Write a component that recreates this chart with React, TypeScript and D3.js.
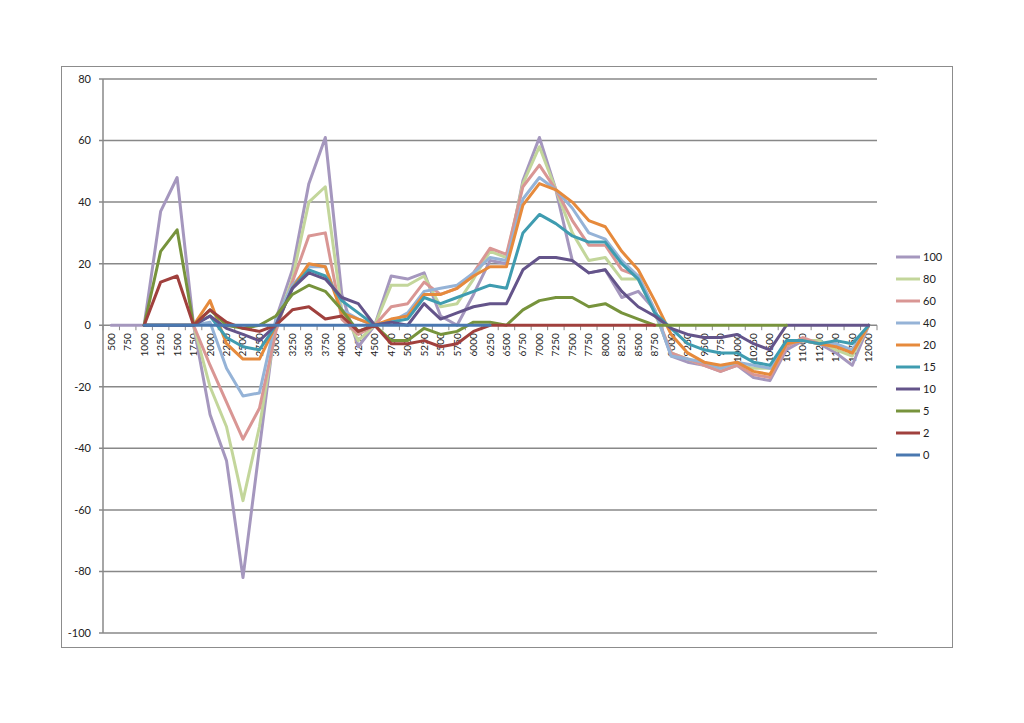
import React from "react";
import * as d3 from "d3";

const categories: number[] = [
  500, 750, 1000, 1250, 1500, 1750, 2000, 2250, 2500, 2750, 3000, 3250, 3500, 3750, 4000, 4250,
  4500, 4750, 5000, 5250, 5500, 5750, 6000, 6250, 6500, 6750, 7000, 7250, 7500, 7750, 8000, 8250,
  8500, 8750, 9000, 9250, 9500, 9750, 10000, 10250, 10500, 10750, 11000, 11250, 11500, 11750, 12000,
];

const yTicks: number[] = [80, 60, 40, 20, 0, -20, -40, -60, -80, -100];

const N = null;
const s100: (number | null)[] = [0, 0, 0, 37, 48, 0, -29, -44, -82, -40, 2, 18, 46, 61, 10, -7, 0, 16, 15, 17, 3, 0, 10, 21, 20, 47, 61, 44, 21, 17, 18, 9, 11, 5, -10, -12, -13, -15, -13, -17, -18, -8, -5, -6, -9, -13, 0];
const s80: (number | null)[] = [N, N, 0, 0, 0, 0, -20, -33, -57, -33, 0, 15, 40, 45, 5, -5, 0, 13, 13, 16, 6, 7, 15, 24, 22, 46, 58, 44, 30, 21, 22, 15, 15, 4, -9, -11, -13, -14, -13, -14, -14, -6, -5, -5, -8, -10, 0];
const s60: (number | null)[] = [N, N, 0, 0, 0, 0, -13, -25, -37, -27, -2, 14, 29, 30, 2, -3, 0, 6, 7, 14, 10, 12, 17, 25, 23, 45, 52, 44, 34, 26, 26, 18, 16, 5, -9, -11, -13, -15, -13, -16, -17, -7, -4, -6, -6, -9, 0];
const s40: (number | null)[] = [N, N, 0, 0, 0, 0, 1, -14, -23, -22, 2, 13, 19, 19, 5, 2, 0, 1, 4, 11, 12, 13, 17, 22, 21, 41, 48, 44, 38, 30, 28, 21, 16, 5, -10, -11, -12, -14, -12, -13, -14, -6, -5, -6, -6, -8, 0];
const s20: (number | null)[] = [N, N, 0, 0, 0, 0, 8, -6, -11, -11, 0, 12, 20, 19, 4, 2, 0, 2, 3, 10, 10, 12, 16, 19, 19, 39, 46, 44, 40, 34, 32, 24, 18, 8, -3, -9, -12, -13, -12, -15, -16, -6, -5, -6, -7, -9, 0];
const s15: (number | null)[] = [N, N, 0, 0, 0, 0, 3, -4, -7, -8, 0, 12, 18, 16, 8, 4, 0, 1, 2, 9, 7, 9, 11, 13, 12, 30, 36, 33, 29, 27, 27, 20, 15, 4, -1, -6, -8, -9, -9, -12, -13, -5, -5, -6, -5, -6, 0];
const s10: (number | null)[] = [N, N, 0, 0, 0, 0, 3, -1, -3, -5, 0, 12, 17, 15, 9, 7, 0, 1, 0, 7, 2, 4, 6, 7, 7, 18, 22, 22, 21, 17, 18, 11, 6, 3, -1, -3, -4, -4, -3, -6, -8, 0, 0, 0, 0, 0, 0];
const s5: (number | null)[] = [N, N, 0, 24, 31, 0, 5, 0, -1, 0, 3, 10, 13, 11, 5, -2, 0, -5, -5, -1, -3, -2, 1, 1, 0, 5, 8, 9, 9, 6, 7, 4, 2, 0, 0, 0, 0, 0, 0, 0, 0, 0, N, N, N, N, N];
const s2: (number | null)[] = [N, N, 0, 14, 16, 0, 5, 1, -1, -2, 0, 5, 6, 2, 3, -2, 0, -6, -6, -5, -7, -6, -2, 0, 0, 0, 0, 0, 0, 0, 0, 0, 0, 0, N, N, N, N, N, N, N, N, N, N, N, N, N];
const s0: (number | null)[] = [N, N, 0, 0, 0, 0, 0, 0, 0, 0, 0, 0, 0, 0, 0, 0, 0, 0, 0, 0, 0, 0, 0, 0, N, N, N, N, N, N, N, N, N, N, N, N, N, N, N, N, N, N, N, N, N, N, N];

const seriesNames: string[] = ["100", "80", "60", "40", "20", "15", "10", "5", "2", "0"];
const seriesValues = [s100, s80, s60, s40, s20, s15, s10, s5, s2, s0];
const seriesColors: string[] = ["#a597be", "#c3d69b", "#d99694", "#95b3d7", "#e68a3c", "#3f9cb0", "#64548a", "#77933c", "#a0403d", "#4a78b0"];

export default function App() {
  const W = 1024;
  const H = 723;
  const left = 103;
  const right = 877;
  const top = 79;
  const bottom = 633;

  const x = d3.scaleBand<number>().domain(categories).range([left, right]).padding(0);
  const bw = x.bandwidth();
  const cx = (c: number) => (x(c) as number) + bw / 2;
  const y = d3.scaleLinear().domain([-100, 80]).range([bottom, top]);

  const line = d3
    .line<number | null>()
    .defined((d) => d !== null)
    .x((_, i) => cx(categories[i]))
    .y((d) => y(d as number));

  const font = "Lato, 'Liberation Sans', sans-serif";

  return (
    <svg width={W} height={H} style={{ position: "absolute", left: 0, top: 0, background: "#fff" }}>
      <rect x={61.5} y={66.5} width={891} height={581} fill="#fff" stroke="#8c8c8c" strokeWidth={1} />
      {yTicks.map((t) => (
        <g key={"g" + t}>
          <line x1={left - 4} x2={right} y1={y(t)} y2={y(t)} stroke="#888" strokeWidth={1.5} />
          <text x={91} y={y(t)} dy="0.35em" textAnchor="end" fontSize={11} fill="#222" fontFamily={font}>
            {t}
          </text>
        </g>
      ))}
      <line x1={left} x2={left} y1={top} y2={bottom} stroke="#888" strokeWidth={1.5} />
      {categories.map((c) => (
        <line key={"t" + c} x1={x(c) as number} x2={x(c) as number} y1={y(0)} y2={y(0) + 5} stroke="#888" strokeWidth={1} />
      ))}
      <line x1={right} x2={right} y1={y(0)} y2={y(0) + 5} stroke="#888" strokeWidth={1} />
      {categories.map((c) => (
        <text
          key={"l" + c}
          transform={`translate(${cx(c)},${y(0) + 8}) rotate(-90)`}
          textAnchor="end"
          dy="0.35em"
          fontSize={10}
          fill="#222"
          fontFamily={font}
        >
          {c}
        </text>
      ))}
      {seriesValues.map((vals, i) => (
        <path
          key={"s" + seriesNames[i]}
          d={line(vals) || ""}
          fill="none"
          stroke={seriesColors[i]}
          strokeWidth={3}
          strokeLinejoin="round"
          strokeLinecap="round"
        />
      ))}
      {seriesNames.map((n, i) => (
        <g key={"lg" + n} transform={`translate(896,${257 + i * 22})`}>
          <line x1={0} x2={24} y1={0} y2={0} stroke={seriesColors[i]} strokeWidth={3} />
          <text x={27} y={0} dy="0.35em" fontSize={11} fill="#222" fontFamily={font}>
            {n}
          </text>
        </g>
      ))}
    </svg>
  );
}
